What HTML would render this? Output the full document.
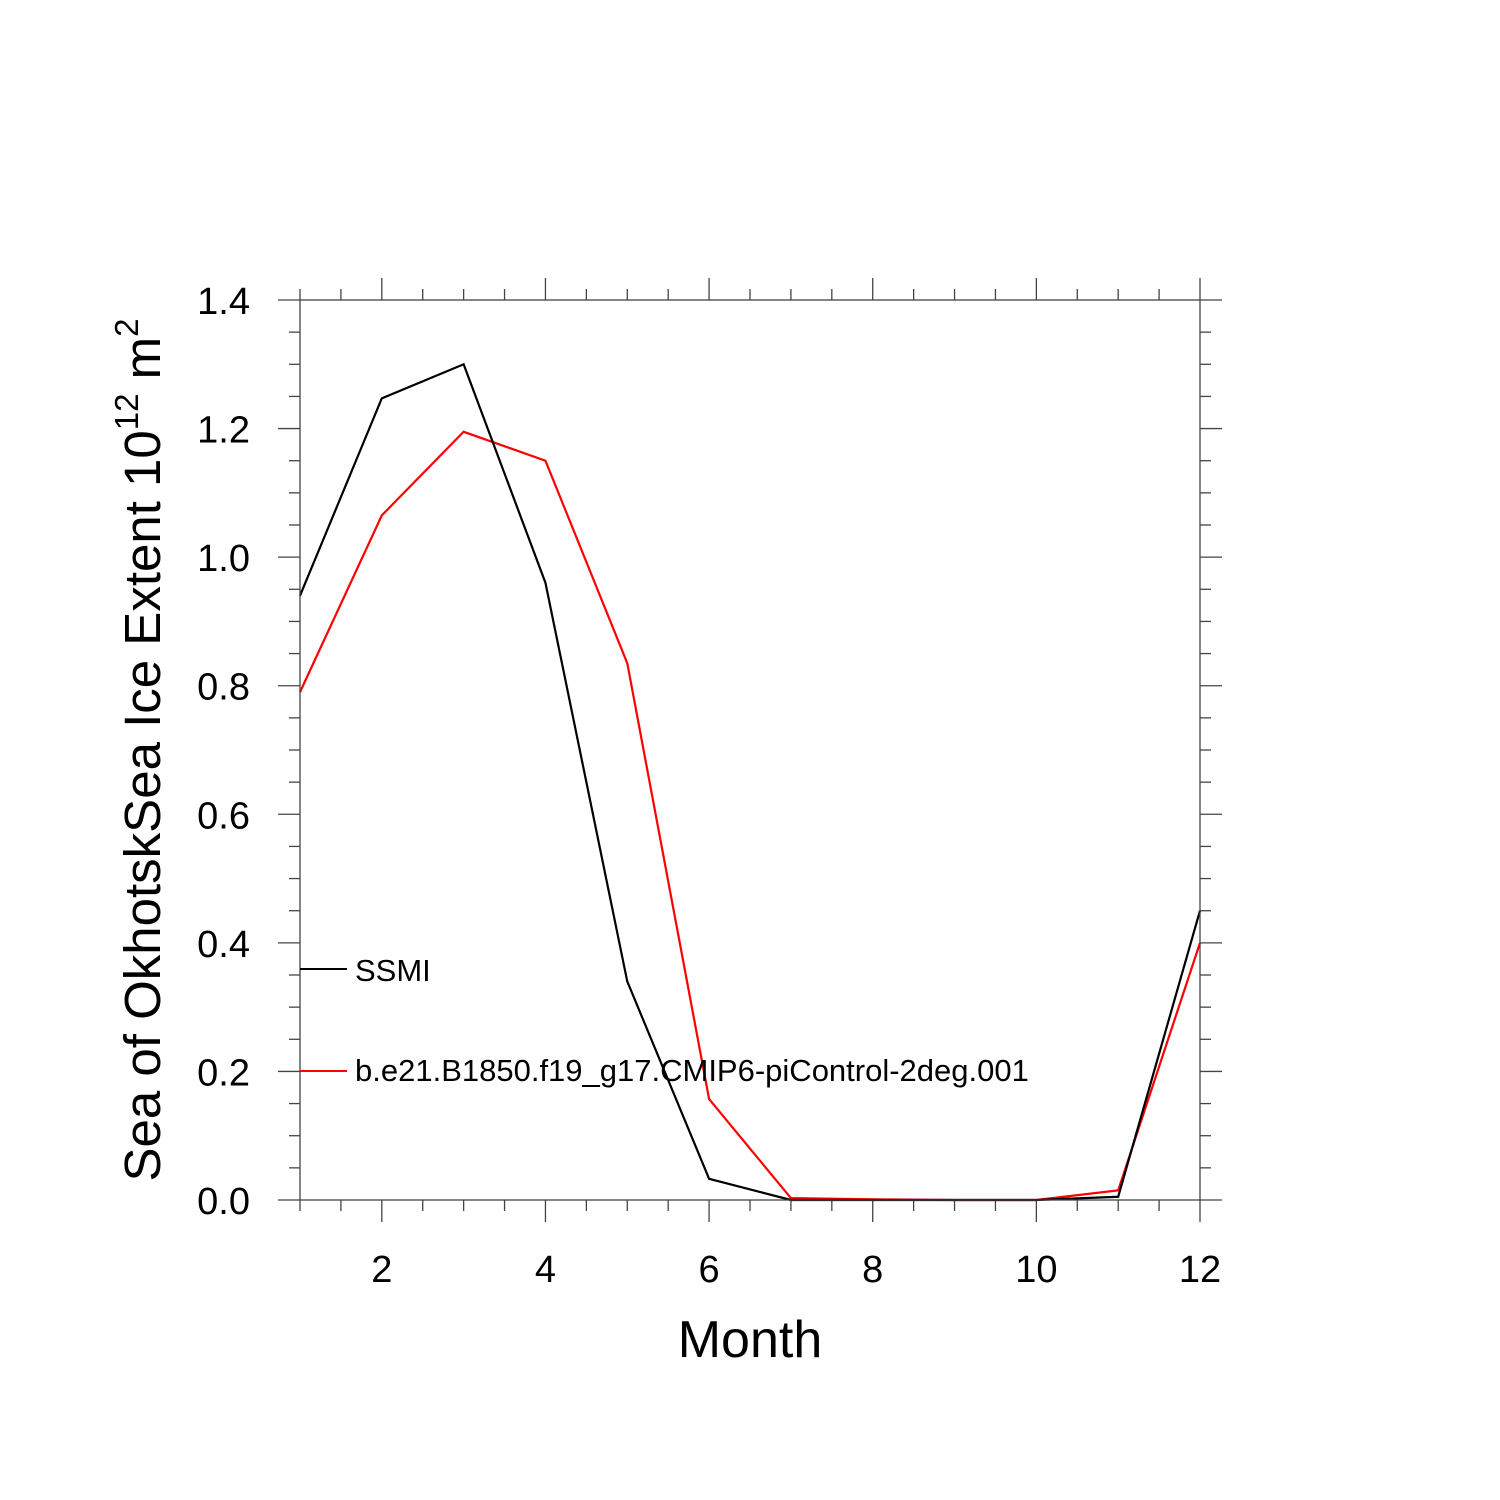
<!DOCTYPE html>
<html><head><meta charset="utf-8"><style>
body{margin:0;background:#fff;}
svg{display:block;font-family:"Liberation Sans",sans-serif;}
</style></head><body>
<svg id="chart" width="1500" height="1500" viewBox="0 0 1500 1500" xmlns="http://www.w3.org/2000/svg">
<rect width="1500" height="1500" fill="#fff"/>
<g id="ticks"></g>
<g id="series"></g>
<rect x="300" y="300" width="900" height="900" fill="none" stroke="#444" stroke-width="1.3"/>
<g id="labels" font-size="38" fill="#000"></g>
<text x="750" y="1357" font-size="52" text-anchor="middle">Month</text>
<text transform="translate(160,750) rotate(-90)" font-size="51" text-anchor="middle">Sea of OkhotskSea Ice Extent 10<tspan font-size="33" dy="-22">12</tspan><tspan dy="22"> m</tspan><tspan font-size="33" dy="-22">2</tspan></text>
<g>
<line x1="300" y1="969" x2="347" y2="969" stroke="#000" stroke-width="2"/>
<text x="355" y="981" font-size="31">SSMI</text>
<line x1="300" y1="1071" x2="347" y2="1071" stroke="#f00" stroke-width="2"/>
<text x="355" y="1081" font-size="31">b.e21.B1850.f19_g17.CMIP6-piControl-2deg.001</text>
</g>
</svg>
<script>
const months=[1,2,3,4,5,6,7,8,9,10,11,12];
const ssmi=[0.94,1.247,1.30,0.96,0.34,0.033,0.0,0.0,0.0,0.0,0.005,0.45];
const model=[0.79,1.065,1.195,1.15,0.835,0.157,0.003,0.001,0.0,0.0,0.015,0.40];
const xTicks=[2,4,6,8,10,12];
const yTicks=[0,0.2,0.4,0.6,0.8,1.0,1.2,1.4];
const yTickLabels=["0.0","0.2","0.4","0.6","0.8","1.0","1.2","1.4"];
const X0=300,X1=1200,Y0=1200,Y1=300;
function xs(m){return X0+(m-1)/11*(X1-X0);}
function ys(v){return Y0-v/1.4*(Y0-Y1);}
const NS="http://www.w3.org/2000/svg";
const tg=document.getElementById('ticks');
function ln(x1,y1,x2,y2,name){const l=document.createElementNS(NS,'line');
l.setAttribute('x1',x1);l.setAttribute('y1',y1);l.setAttribute('x2',x2);l.setAttribute('y2',y2);
l.setAttribute('stroke','#444');l.setAttribute('stroke-width','1.3');


tg.appendChild(l);}
for(let m=1;m<=12.001;m+=0.5){const x=xs(m);const major=xTicks.includes(m);const L=major?22:11;
ln(x,Y0,x,Y0+L,'x-tick');ln(x,Y1,x,Y1-L,'x-tick-top');}
for(let i=0;i<=28;i++){const v=i*0.05;const y=ys(v);const major=i%4===0;const L=major?22:11;
ln(X0,y,X0-L,y,'y-tick');ln(X1,y,X1+L,y,'y-tick-right');}
const lg=document.getElementById('labels');
xTicks.forEach(m=>{const t=document.createElementNS(NS,'text');t.setAttribute('x',xs(m));t.setAttribute('y',1282);t.setAttribute('text-anchor','middle');t.textContent=m;


lg.appendChild(t);});
yTicks.forEach((v,i)=>{const t=document.createElementNS(NS,'text');t.setAttribute('x',250);t.setAttribute('y',ys(v)+14);t.setAttribute('text-anchor','end');t.textContent=yTickLabels[i];


lg.appendChild(t);});
const sg=document.getElementById('series');
function poly(vals,color,name){const p=document.createElementNS(NS,'polyline');
p.setAttribute('points',vals.map((v,i)=>xs(months[i])+','+ys(v)).join(' '));
p.setAttribute('fill','none');p.setAttribute('stroke',color);p.setAttribute('stroke-width','2.2');


sg.appendChild(p);}
poly(model,'#f00','line-model');
poly(ssmi,'#000','line-ssmi');
</script>
</body></html>
